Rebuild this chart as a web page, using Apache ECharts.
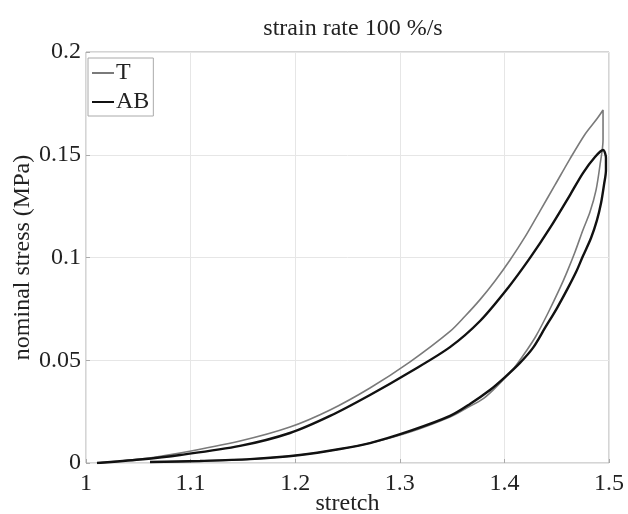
<!DOCTYPE html>
<html>
<head>
<meta charset="utf-8">
<script src="https://cdn.jsdelivr.net/npm/echarts@6/dist/echarts.min.js"></script>
<style>
  html, body { margin: 0; padding: 0; background: #fff; }
</style>
</head>
<body>
<div id="chart" style="width: 628px; height: 514px"></div>
<script>
// T: loading branch then unloading branch (one loop)
const tStretch = [
  1.0105, 1.0516, 1.0899, 1.1472, 1.195, 1.2333, 1.2715, 1.3098, 1.348, 1.3623,
  1.3767, 1.391, 1.4054, 1.4197, 1.434, 1.4484, 1.4627, 1.4771, 1.4885, 1.4943,
  1.4943, 1.4914, 1.4876, 1.4818, 1.4751, 1.4675, 1.4598, 1.4532, 1.4417, 1.4302,
  1.4216, 1.4092, 1.3958, 1.3805, 1.3623, 1.348, 1.3098, 1.2715, 1.2428, 1.2046,
  1.1568, 1.109, 1.0707
]
const tStress = [
  0, 0.0019, 0.0049, 0.0107, 0.0175, 0.0258, 0.0365, 0.0492, 0.064, 0.0714,
  0.0795, 0.0886, 0.0988, 0.11, 0.1226, 0.1353, 0.148, 0.16, 0.1675, 0.1718,
  0.1572, 0.145, 0.1328, 0.1221, 0.1134, 0.1027, 0.0929, 0.0852, 0.073, 0.0618,
  0.055, 0.0462, 0.0389, 0.0316, 0.0263, 0.0224, 0.0151, 0.0097, 0.0068, 0.0039,
  0.0019, 0.001, 0.0005
]

// AB: loading branch then unloading branch
const abStretch = [
  1.0105, 1.0516, 1.0899, 1.1472, 1.195, 1.2333, 1.2715, 1.3098, 1.348, 1.3767,
  1.4034, 1.4245, 1.4436, 1.4627, 1.4751, 1.4866, 1.4943,
  1.4971, 1.4971, 1.4952, 1.4924, 1.4885, 1.4828, 1.4751, 1.4685, 1.4608, 1.4503,
  1.4388, 1.4273, 1.4149, 1.4006, 1.3862, 1.3671, 1.348, 1.3098, 1.2715, 1.2428,
  1.2046, 1.1568, 1.109, 1.0612
]
const abStress = [
  0, 0.0017, 0.0039, 0.0083, 0.0146, 0.0229, 0.0331, 0.0443, 0.0564, 0.0691,
  0.0852, 0.0998, 0.1144, 0.1304, 0.1411, 0.1489, 0.1523,
  0.1484, 0.1426, 0.1353, 0.1265, 0.1182, 0.1095, 0.1007, 0.0929, 0.0852, 0.0754,
  0.0657, 0.056, 0.0487, 0.0418, 0.0355, 0.0287, 0.0229, 0.0156, 0.0097, 0.0068,
  0.0039, 0.0019, 0.001, 0.0005
]

const zip = (xs, ys) => xs.map((x, i) => [x, ys[i]])

const font = 'Liberation Serif'
const fs = 24

const chart = echarts.init(document.getElementById('chart'))
chart.setOption({
  animation: false,
  title: {
    text: 'strain rate 100 %/s',
    left: 348,
    textAlign: 'center',
    top: 12,
    textStyle: { fontFamily: font, fontSize: fs, fontWeight: 'normal', color: '#222' }
  },
  legend: {
    orient: 'vertical',
    left: 88,
    top: 58,
    icon: 'rect',
    itemWidth: 22,
    itemHeight: 2,
    itemGap: 5,
    padding: [3, 4, 2, 4],
    borderColor: '#aaa',
    borderWidth: 1,
    backgroundColor: '#fff',
    textStyle: { fontFamily: font, fontSize: fs, color: '#222', padding: [0, 0, 0, -3] },
    data: ['T', 'AB']
  },
  grid: {
    left: 86,
    right: 19,
    top: 52,
    bottom: 51,
    outerBoundsMode: 'none',
    containLabel: false,
    show: true,
    borderColor: '#aaa',
    borderWidth: 1
  },
  xAxis: {
    type: 'value',
    min: 1,
    max: 1.5,
    interval: 0.1,
    name: 'stretch',
    nameLocation: 'middle',
    nameGap: 29,
    nameMoveOverlap: false,
    nameTextStyle: { fontFamily: font, fontSize: fs, color: '#222' },
    axisLine: { show: false },
    axisTick: { show: true, inside: true, length: 4, lineStyle: { color: '#aaa' } },
    axisLabel: { fontFamily: font, fontSize: fs, color: '#222', margin: 9 },
    splitLine: { lineStyle: { color: '#e6e6e6' } }
  },
  yAxis: {
    type: 'value',
    min: 0,
    max: 0.2,
    interval: 0.05,
    name: 'nominal stress (MPa)',
    nameLocation: 'middle',
    nameGap: 51,
    nameMoveOverlap: false,
    nameTextStyle: { fontFamily: font, fontSize: fs, color: '#222' },
    axisLine: { show: false },
    axisTick: { show: true, inside: true, length: 4, lineStyle: { color: '#aaa' } },
    axisLabel: { fontFamily: font, fontSize: fs, color: '#222', margin: 5 },
    splitLine: { lineStyle: { color: '#e6e6e6' } }
  },
  series: [
    {
      name: 'T',
      type: 'line',
      symbol: 'none',
      smooth: 0.3,
      data: zip(tStretch, tStress),
      lineStyle: { color: '#7a7a7a', width: 1.6 },
      itemStyle: { color: '#7a7a7a' }
    },
    {
      name: 'AB',
      type: 'line',
      symbol: 'none',
      smooth: 0.3,
      data: zip(abStretch, abStress),
      lineStyle: { color: '#111', width: 2.4 },
      itemStyle: { color: '#111' }
    }
  ]
})
</script>
</body>
</html>
